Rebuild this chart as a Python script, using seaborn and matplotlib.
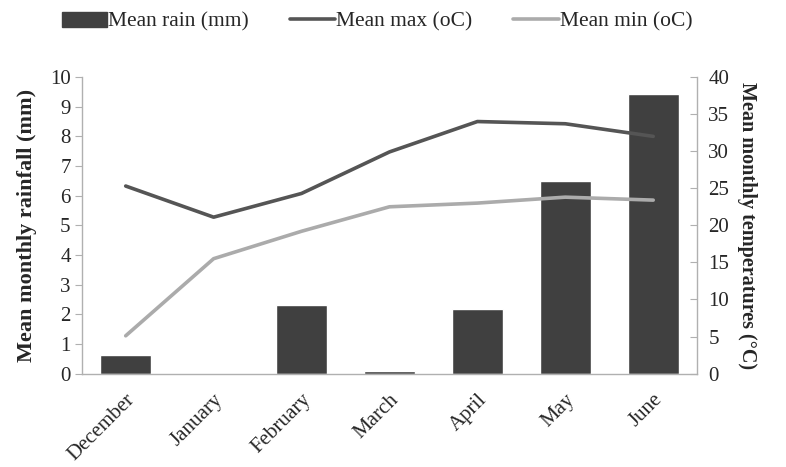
import numpy as np
import pandas as pd
import matplotlib
matplotlib.use('Agg')
import matplotlib.pyplot as plt
import seaborn as sns
from matplotlib.patches import Patch
from matplotlib.lines import Line2D

months = ['December', 'January', 'February', 'March', 'April', 'May', 'June']
rain = [0.62, 0.0, 2.33, 0.1, 2.17, 6.5, 9.42]
temp_max = [25.3, 21.1, 24.3, 29.9, 34.0, 33.7, 32.0]
temp_min = [5.1, 15.5, 19.2, 22.5, 23.0, 23.8, 23.4]

df = pd.DataFrame({'Month': months, 'Rain': rain, 'Max': temp_max, 'Min': temp_min})

sns.set_style('white')
plt.rcParams['font.family'] = ['Liberation Serif', 'DejaVu Serif']

bar_col = '#404040'
max_col = '#555555'
min_col = '#ababab'
axis_col = '#b0b0b0'

fig, ax = plt.subplots(figsize=(7.86, 4.67), dpi=100)
fig.subplots_adjust(left=0.104, right=0.887, top=0.835, bottom=0.2)

# rainfall bars on the left axis
sns.barplot(data=df, x='Month', y='Rain', color=bar_col, width=0.58,
            saturation=1, ax=ax)
ax.set_ylim(0, 10)
ax.set_yticks(range(0, 11))
ax.set_xlim(-0.5, len(months) - 0.5)
ax.set_xlabel('')
ax.set_ylabel('Mean monthly rainfall (mm)', fontsize=16, fontweight='bold', labelpad=9)
ax.tick_params(axis='x', which='major', length=0, labelsize=15, pad=12)
ax.set_xticks(np.arange(-0.5, len(months), 1), minor=True)
ax.tick_params(axis='x', which='minor', length=6, color=axis_col, width=1)
ax.tick_params(axis='y', length=5, color=axis_col, labelsize=15, direction='out', left=True, pad=3)
for lab in ax.get_xticklabels():
    lab.set_rotation(45)
    lab.set_ha('right')
    lab.set_rotation_mode('anchor')

# temperatures on the right axis
ax2 = ax.twinx()
xpos = np.arange(len(months))
sns.lineplot(x=xpos, y=df['Max'], color=max_col, linewidth=2.6, ax=ax2)
sns.lineplot(x=xpos, y=df['Min'], color=min_col, linewidth=2.6, ax=ax2)
ax2.set_ylim(0, 40)
ax2.set_yticks(range(0, 41, 5))
ax2.set_ylabel('Mean monthly temperatures (°C)', fontsize=14.5, fontweight='bold',
               rotation=270, labelpad=20)
ax2.tick_params(axis='y', length=5, color=axis_col, labelsize=15, direction='in',
                right=True, pad=8)

for a in (ax, ax2):
    a.spines['top'].set_visible(False)
    for s in ('left', 'right', 'bottom'):
        a.spines[s].set_color(axis_col)
        a.spines[s].set_linewidth(1)
ax.spines['right'].set_visible(False)
ax2.spines['left'].set_visible(False)
ax2.spines['bottom'].set_visible(False)

handles = [Patch(facecolor=bar_col, edgecolor=bar_col),
           Line2D([0], [0], color=max_col, linewidth=2.6),
           Line2D([0], [0], color=min_col, linewidth=2.6)]
fig.legend(handles, ['Mean rain (mm)', 'Mean max (oC)', 'Mean min (oC)'],
           loc='center left', bbox_to_anchor=(0.079, 0.953), ncol=3, frameon=False,
           fontsize=15.5, handlelength=2.1, handletextpad=0.05, columnspacing=1.9,
           borderaxespad=0, borderpad=0)

plt.savefig('out.png', dpi=100)
